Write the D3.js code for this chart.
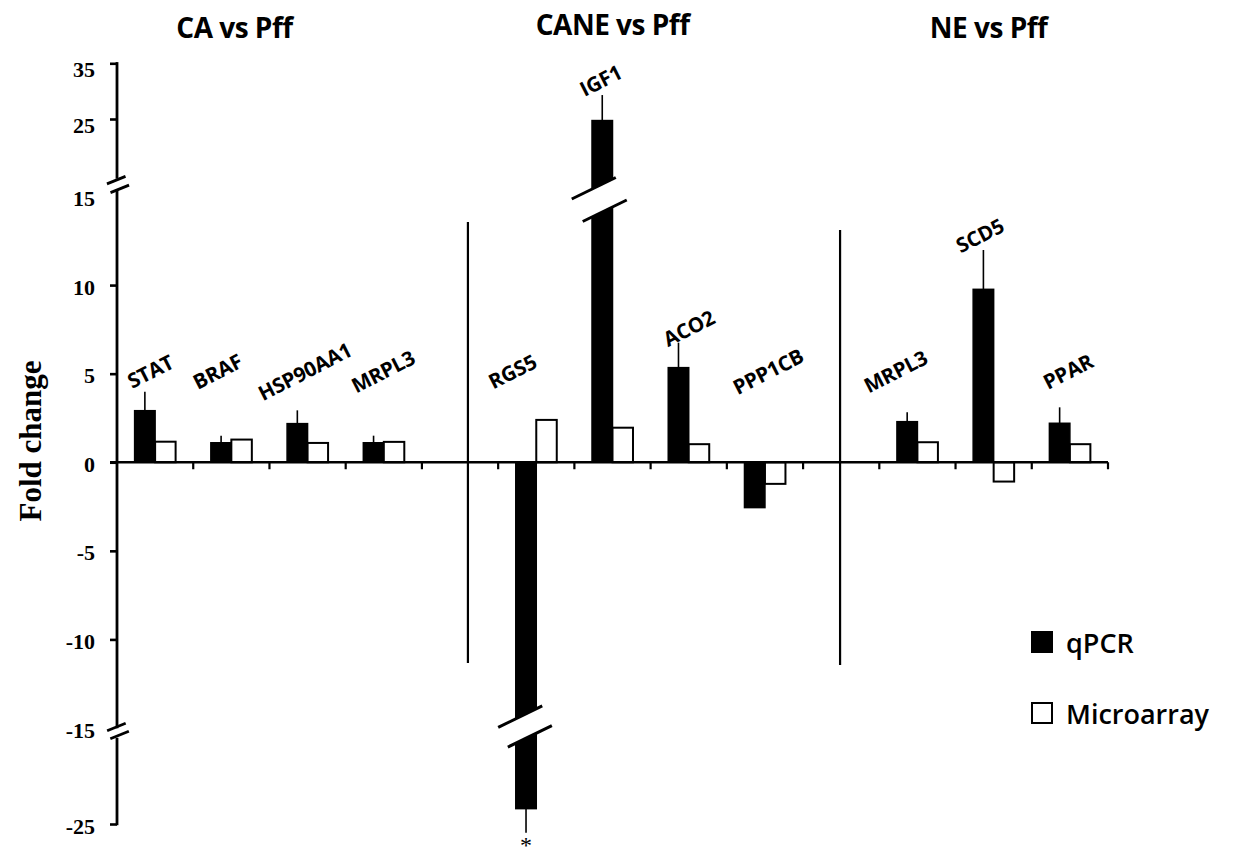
<!DOCTYPE html>
<html>
<head>
<meta charset="utf-8">
<script src="https://cdn.jsdelivr.net/npm/d3@7/dist/d3.min.js"></script>
<style>
  html, body { margin: 0; padding: 0; background: #fff; }
  svg { display: block; }
</style>
</head>
<body>
<svg id="chart" width="1235" height="850"></svg>
<script>
// ---------------- DATA ----------------
const groups = ["CA vs Pff", "CANE vs Pff", "NE vs Pff"];
const genes = ["STAT", "BRAF", "HSP90AA1", "MRPL3", "RGS5", "IGF1", "ACO2", "PPP1CB", "MRPL3", "SCD5", "PPAR"];
const geneGroup = [0, 0, 0, 0, 1, 1, 1, 1, 2, 2, 2];
const qpcr = [2.91, 1.10, 2.18, 1.10, -23.4, 24.8, 5.34, -2.56, 2.29, 9.76, 2.20];
const qpcrErr = [1.07, 0.40, 0.75, 0.40, 2.5, 4.5, 1.41, 0, 0.53, 2.22, 0.90];
const microarray = [1.16, 1.28, 1.09, 1.15, 2.39, 1.95, 1.02, -1.22, 1.13, -1.09, 1.02];
const significant = [false, false, false, false, true, false, false, false, false, false, false];
const seriesNames = ["qPCR", "Microarray"];
const yTickLabels = [35, 25, 15, 10, 5, 0, -5, -10, -15, -25];
const yTickMarks = [35, 25, 10, 5, 0, -5, -10, -25];
const yTitle = "Fold change";

// ---------------- LAYOUT ----------------
const svg = d3.select("#chart");
const X0 = 117, X1 = 1108;

const slots = [];
genes.forEach((g, i) => {
  if (i > 0 && geneGroup[i] !== geneGroup[i - 1]) slots.push("gap" + geneGroup[i]);
  slots.push("g" + i);
});
const x = d3.scaleBand().domain(slots).range([X0, X1]).paddingInner(0).paddingOuter(0);
const bw = x.bandwidth();
const xs = d3.scaleBand().domain(seriesNames).range([0, bw]).paddingInner(0).paddingOuter(0.86);

// broken y axis: piecewise linear
const y = d3.scaleLinear()
  .domain([-25, -15, 15, 25, 35])
  .range([824, 728, 196.5, 119, 63.3]);

const labelDx = [-5, -14, -3, -1, -24, -12, 0, 3, -22, -14, -2];
const titleDx = [-35, -38, -5];
const titleY = [38, 35, 38];

// ---------------- GROUP TITLES ----------------
groups.forEach((g, gi) => {
  const idx = genes.map((_, i) => i).filter(i => geneGroup[i] === gi);
  const a = x("g" + idx[0]), b = x("g" + idx[idx.length - 1]) + bw;
  svg.append("text")
    .attr("x", (a + b) / 2 + titleDx[gi]).attr("y", titleY[gi])
    .attr("text-anchor", "middle")
    .attr("font-family", "'Open Sans', sans-serif").attr("font-weight", 700)
    .attr("font-size", 28).attr("letter-spacing", -0.5)
    .text(g);
});

// ---------------- GROUP DIVIDERS ----------------
const divDx = [46, 37];
const divY = [[222, 663], [230, 665]];
slots.filter(s => s.startsWith("gap")).forEach((s, i) => {
  svg.append("line")
    .attr("x1", x(s) + divDx[i]).attr("x2", x(s) + divDx[i])
    .attr("y1", divY[i][0]).attr("y2", divY[i][1])
    .attr("stroke", "#000").attr("stroke-width", 2.2);
});

// ---------------- BARS ----------------
const barG = svg.append("g");
genes.forEach((g, i) => {
  const bx = x("g" + i);
  const v = qpcr[i];
  barG.append("rect")
    .attr("x", bx + xs("qPCR")).attr("width", xs.bandwidth())
    .attr("y", Math.min(y(v), y(0))).attr("height", Math.abs(y(v) - y(0)))
    .attr("fill", "#000").attr("stroke", "#000").attr("stroke-width", 1.5);
  if (qpcrErr[i] > 0) {
    const cx = bx + xs("qPCR") + xs.bandwidth() / 2;
    const end = v >= 0 ? v + qpcrErr[i] : v - qpcrErr[i];
    barG.append("line")
      .attr("x1", cx).attr("x2", cx).attr("y1", y(v)).attr("y2", y(end))
      .attr("stroke", "#000").attr("stroke-width", 1.6);
  }
  const m = microarray[i];
  barG.append("rect")
    .attr("x", bx + xs("Microarray")).attr("width", xs.bandwidth())
    .attr("y", Math.min(y(m), y(0))).attr("height", Math.abs(y(m) - y(0)))
    .attr("fill", "#fff").attr("stroke", "#000").attr("stroke-width", 2);
});

function breakMark(cx, cy, len, gap) {
  const g = svg.append("g").attr("transform", `translate(${cx},${cy}) rotate(-26)`);
  g.append("rect").attr("x", -len / 2 + 3).attr("y", -gap / 2).attr("width", len - 6).attr("height", gap).attr("fill", "#fff");
  g.append("line").attr("x1", -len / 2).attr("x2", len / 2).attr("y1", -gap / 2).attr("y2", -gap / 2)
    .attr("stroke", "#000").attr("stroke-width", 3);
  g.append("line").attr("x1", -len / 2).attr("x2", len / 2).attr("y1", gap / 2).attr("y2", gap / 2)
    .attr("stroke", "#000").attr("stroke-width", 3);
}
genes.forEach((g, i) => {
  const cx = x("g" + i) + xs("qPCR") + xs.bandwidth() / 2;
  if (qpcr[i] > 15) breakMark(cx - 3, y(15) + 3, 49, 25);
  if (qpcr[i] < -15) breakMark(cx - 1, y(-15) - 1.5, 49, 22);
});

// significance asterisk
genes.forEach((g, i) => {
  if (!significant[i]) return;
  const cx = x("g" + i) + xs("qPCR") + xs.bandwidth() / 2;
  const end = qpcr[i] - qpcrErr[i];
  svg.append("text").attr("x", cx).attr("y", y(end) + 20)
    .attr("text-anchor", "middle")
    .attr("font-family", "'Liberation Serif', serif").attr("font-size", 24)
    .text("*");
});

// ---------------- GENE LABELS ----------------
genes.forEach((g, i) => {
  const top = Math.min(
    y(Math.max(qpcr[i] + (qpcr[i] > 0 ? qpcrErr[i] : 0), 0)),
    y(Math.max(microarray[i], 0))
  );
  const cy = Math.min(371, top - 15);
  const cx = x("g" + i) + bw / 2 + labelDx[i];
  svg.append("text")
    .attr("transform", `translate(${cx},${cy}) rotate(-27)`)
    .attr("text-anchor", "middle").attr("dominant-baseline", "central")
    .attr("font-family", "'Open Sans', sans-serif").attr("font-weight", 700)
    .attr("font-size", 20.5).attr("letter-spacing", -0.2)
    .text(g);
});

// ---------------- ZERO LINE ----------------
svg.append("line")
  .attr("x1", X0 - 7).attr("x2", X1).attr("y1", y(0)).attr("y2", y(0))
  .attr("stroke", "#000").attr("stroke-width", 2.6);
slots.slice(1).forEach(s => {
  svg.append("line")
    .attr("x1", x(s)).attr("x2", x(s)).attr("y1", y(0)).attr("y2", y(0) + 7)
    .attr("stroke", "#000").attr("stroke-width", 2.2);
});
svg.append("line")
  .attr("x1", X1).attr("x2", X1).attr("y1", y(0)).attr("y2", y(0) + 7)
  .attr("stroke", "#000").attr("stroke-width", 2.2);

// ---------------- Y AXIS ----------------
const yAxis = d3.axisLeft(y).tickValues(yTickMarks).tickSize(7).tickFormat("");
const ax = svg.append("g").attr("transform", `translate(${X0},0)`).call(yAxis);
ax.select(".domain").remove();
ax.selectAll(".tick line").attr("stroke", "#000").attr("stroke-width", 2.6);
const seg = [[y(35), y(15) - 19], [y(15) - 6, y(-15) - 1], [y(-15) + 11, y(-25)]];
seg.forEach(([a, b]) => {
  svg.append("line").attr("x1", X0).attr("x2", X0).attr("y1", a - 1.2).attr("y2", b + 1.2)
    .attr("stroke", "#000").attr("stroke-width", 2.8);
});
function axisBreak(cy, gap) {
  const g = svg.append("g").attr("transform", `translate(${X0 + 1},${cy}) rotate(-22)`);
  [-gap / 2, gap / 2].forEach(o => {
    g.append("line").attr("x1", -10).attr("x2", 10).attr("y1", o).attr("y2", o)
      .attr("stroke", "#000").attr("stroke-width", 2.8);
  });
}
axisBreak(y(15) - 12, 9.5);
axisBreak(y(-15) + 3, 8.5);

svg.append("g").selectAll("text").data(yTickLabels).join("text")
  .attr("x", 95)
  .attr("y", d => y(d) + (d > 15 ? 6 : 2))
  .attr("text-anchor", "end").attr("dominant-baseline", "central")
  .attr("font-family", "'Liberation Serif', 'Times New Roman', serif").attr("font-weight", "bold")
  .attr("font-size", 22)
  .text(d => d);

svg.append("text")
  .attr("transform", `translate(30,441) rotate(-90)`)
  .attr("text-anchor", "middle").attr("dominant-baseline", "central")
  .attr("font-family", "'Liberation Serif', serif").attr("font-weight", 700)
  .attr("font-size", 31)
  .text(yTitle);

// ---------------- LEGEND ----------------
const legend = svg.append("g").attr("transform", "translate(1032,632)");
seriesNames.forEach((s, i) => {
  const gy = i * 71;
  legend.append("rect").attr("x", 0).attr("y", gy).attr("width", 20).attr("height", 20)
    .attr("fill", i === 0 ? "#000" : "#fff").attr("stroke", "#000").attr("stroke-width", 2);
  legend.append("text").attr("x", 34).attr("y", gy + 21)
    .attr("font-family", "'Open Sans', sans-serif").attr("font-weight", 600)
    .attr("font-size", 27)
    .text(s);
});
</script>
</body>
</html>
